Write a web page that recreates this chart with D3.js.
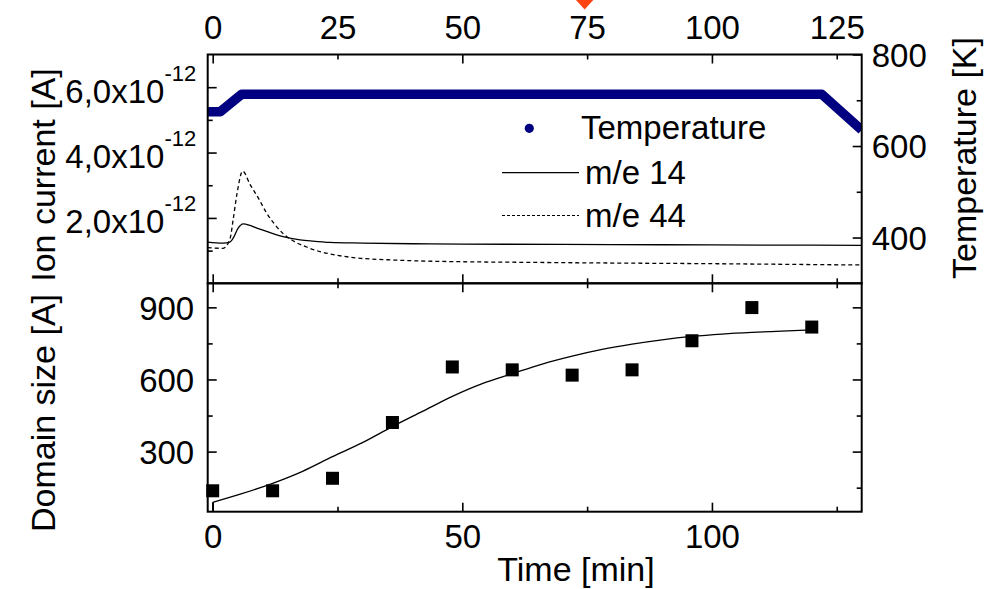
<!DOCTYPE html>
<html><head><meta charset="utf-8">
<script src="https://cdn.jsdelivr.net/npm/d3@7/dist/d3.min.js"></script>
<style>
html,body{margin:0;padding:0;background:#fff;}
svg{display:block;font-family:"Liberation Sans",Arial,sans-serif;}
</style></head>
<body>
<svg id="chart" width="985" height="589"></svg>
<script>
// ---------- data ----------
const tempTime = [-1, 1.5, 5.8, 122, 130];
const tempK    = [675, 675, 713, 713, 635];

const mz14Time    = [-1, 2, 3.5, 4.1, 5.1, 6.1, 7.5, 9, 10.8, 12.5, 14.1, 17.5, 20, 23.5, 30, 40, 50, 70, 90, 110, 130];
const mz14Current = [1.26, 1.23, 1.27, 1.38, 1.69, 1.82, 1.77, 1.68, 1.59, 1.50, 1.43, 1.33, 1.29, 1.25, 1.23, 1.21, 1.20, 1.19, 1.18, 1.17, 1.16];

const mz44Time    = [-1, 2.1, 3.5, 4.1, 4.9, 6.0, 7.5, 9.1, 10.8, 12.5, 14.1, 16.1, 18.8, 21.5, 23.5, 26, 29.2, 35, 40, 49.7, 60, 80, 100, 115, 130];
const mz44Current = [1.09, 1.07, 1.38, 1.95, 2.77, 3.43, 3.02, 2.62, 2.15, 1.79, 1.52, 1.30, 1.11, 0.97, 0.90, 0.83, 0.77, 0.72, 0.69, 0.66, 0.645, 0.62, 0.60, 0.58, 0.56];

const domainTime = [0, 12, 24, 36, 48, 60, 72, 84, 96, 108, 120];
const domainSize = [137, 137, 189, 421, 652, 640, 618, 640, 761, 899, 818];

const fitTime = [0, 0, 6, 12, 18, 24, 30, 36, 42, 48, 54, 60, 66, 72, 78, 84, 90, 96, 102, 108, 114, 120];
const fitSize = [50, 89, 126, 168, 218, 279, 337, 404, 467, 530, 583, 624, 664, 697, 725, 747, 765, 779, 789, 796, 801, 806];

const markerTimes = [74.5];

const timeMajorTicks = [0, 50, 100];
const timeMinorTicks = [25, 75, 125];
const topTimeTicks = [0, 25, 50, 75, 100, 125];
const ionMajorTicks = [2, 4, 6];
const ionMinorTicks = [1, 3, 5];
const ionTickLabels = ["2,0x10", "4,0x10", "6,0x10"];
const ionTickExp = "-12";
const tempMajorTicks = [400, 600, 800];
const tempMinorTicks = [500, 700];
const sizeMajorTicks = [300, 600, 900];
const sizeMinorTicks = [150, 450, 750];

const legendLabels = ["Temperature", "m/e 14", "m/e 44"];

// ---------- layout ----------
const L = 207.7, R = 861.7, T1 = 54.5, B1 = 283.3, B2 = 511.7;
const FS = 33, FT = 34;
const svg = d3.select("#chart");

const x = d3.scaleLinear().domain([-1, 130]).range([L, R]);
const yIon = d3.scaleLinear().domain([0, 7]).range([B1, T1]);
const yTemp = d3.scaleLinear().domain([300, 800]).range([B1, T1]);
const ySize = d3.scaleLinear().domain([50, 1000]).range([B2, B1]);

const defs = svg.append("defs");
defs.append("clipPath").attr("id", "clipTop").append("rect")
  .attr("x", L).attr("y", T1).attr("width", R - L).attr("height", B1 - T1);
defs.append("clipPath").attr("id", "clipBot").append("rect")
  .attr("x", L).attr("y", B1).attr("width", R - L).attr("height", B2 - B1);

function styleAxis(g) {
  g.select(".domain").remove();
  g.selectAll(".tick line").attr("stroke", "#000").attr("stroke-width", 1.6);
  g.selectAll(".tick text").attr("font-size", FS).attr("fill", "#000")
    .attr("font-family", '"Liberation Sans",Arial,sans-serif');
}
function addAxis(axis, tx, ty) {
  const g = svg.append("g").attr("transform", `translate(${tx},${ty})`).call(axis);
  styleAxis(g);
  return g;
}
const MAJ = 9, MIN = 5;

// ---------- top panel ----------
addAxis(d3.axisTop(x).tickValues(topTimeTicks).tickSize(0).tickPadding(16), 0, T1);
addAxis(d3.axisTop(x).tickValues(timeMajorTicks).tickSize(-MAJ).tickFormat(""), 0, T1);
addAxis(d3.axisTop(x).tickValues(timeMinorTicks).tickSize(-MIN).tickFormat(""), 0, T1);
addAxis(d3.axisBottom(x).tickValues(timeMajorTicks).tickSize(-MAJ).tickFormat(""), 0, B1);
addAxis(d3.axisBottom(x).tickValues(timeMinorTicks).tickSize(-MIN).tickFormat(""), 0, B1);
addAxis(d3.axisTop(x).tickValues(timeMajorTicks).tickSize(-MAJ).tickFormat(""), 0, B1);
addAxis(d3.axisTop(x).tickValues(timeMinorTicks).tickSize(-MIN).tickFormat(""), 0, B1);

// left ion axis
const ionAx = addAxis(d3.axisLeft(yIon).tickValues(ionMajorTicks).tickSize(-MAJ).tickPadding(11.5)
  .tickFormat((d, i) => ionTickLabels[i]), L, 0);
ionAx.selectAll(".tick text").attr("dy", "0.45em").each(function (d, i) {
  const t = d3.select(this);
  t.text(null);
  t.append("tspan").text(ionTickLabels[i]);
  t.append("tspan").attr("font-size", 22).attr("dy", "-1.0em").text(ionTickExp);
});
addAxis(d3.axisLeft(yIon).tickValues(ionMinorTicks).tickSize(-MIN).tickFormat(""), L, 0);

// right temp axis
const tAx = addAxis(d3.axisRight(yTemp).tickValues(tempMajorTicks).tickSize(-MAJ).tickPadding(10), R, 0);
tAx.selectAll(".tick text").attr("dy", "0.36em");
addAxis(d3.axisRight(yTemp).tickValues(tempMinorTicks).tickSize(-MIN).tickFormat(""), R, 0);

// ---------- bottom panel ----------
addAxis(d3.axisBottom(x).tickValues(timeMajorTicks).tickSize(-MAJ).tickPadding(13), 0, B2);
addAxis(d3.axisBottom(x).tickValues(timeMinorTicks).tickSize(-MIN).tickFormat(""), 0, B2);
const sAx = addAxis(d3.axisLeft(ySize).tickValues(sizeMajorTicks).tickSize(-MAJ).tickPadding(13.5), L, 0);
sAx.selectAll(".tick text").attr("dy", "0.36em");
addAxis(d3.axisLeft(ySize).tickValues(sizeMinorTicks).tickSize(-MIN).tickFormat(""), L, 0);
addAxis(d3.axisRight(ySize).tickValues(sizeMajorTicks).tickSize(-MAJ).tickFormat(""), R, 0);
addAxis(d3.axisRight(ySize).tickValues(sizeMinorTicks).tickSize(-MIN).tickFormat(""), R, 0);

// ---------- data marks: top ----------
const gTop = svg.append("g").attr("clip-path", "url(#clipTop)");
const tempData = tempTime.map((t, i) => [t, tempK[i]]);
gTop.append("path").datum(tempData)
  .attr("d", d3.line().x(d => x(d[0])).y(d => yTemp(d[1])))
  .attr("fill", "none").attr("stroke", "#000080").attr("stroke-width", 9.5)
  .attr("stroke-linejoin", "round");

const m14 = mz14Time.map((t, i) => [t, mz14Current[i]]);
const m44 = mz44Time.map((t, i) => [t, mz44Current[i]]);
const ionLine = d3.line().x(d => x(d[0])).y(d => yIon(d[1])).curve(d3.curveMonotoneX);
gTop.append("path").datum(m14).attr("d", ionLine)
  .attr("fill", "none").attr("stroke", "#000").attr("stroke-width", 1.3);
gTop.append("path").datum(m44).attr("d", ionLine)
  .attr("fill", "none").attr("stroke", "#000").attr("stroke-width", 1.3)
  .attr("stroke-dasharray", "4,3");

// legend
const lg = svg.append("g").attr("font-size", FS);
lg.append("circle").attr("cx", 529.3).attr("cy", 128.3).attr("r", 4.6).attr("fill", "#000080");
lg.append("text").attr("x", 581).attr("y", 139).text(legendLabels[0]);
lg.append("line").attr("x1", 502).attr("x2", 579).attr("y1", 172.7).attr("y2", 172.7)
  .attr("stroke", "#000").attr("stroke-width", 1.3);
lg.append("text").attr("x", 585).attr("y", 183.5).text(legendLabels[1]);
lg.append("line").attr("x1", 502).attr("x2", 579).attr("y1", 215.5).attr("y2", 215.5)
  .attr("stroke", "#000").attr("stroke-width", 1.1).attr("stroke-dasharray", "3,2");
lg.append("text").attr("x", 585).attr("y", 226.7).text(legendLabels[2]);

// ---------- data marks: bottom ----------
const gBot = svg.append("g").attr("clip-path", "url(#clipBot)");
const fitData = fitTime.map((t, i) => [t, fitSize[i]]);
gBot.append("path").datum(fitData.slice(0, 2))
  .attr("d", d3.line().x(d => x(d[0])).y(d => ySize(d[1])))
  .attr("fill", "none").attr("stroke", "#000").attr("stroke-width", 1.3);
gBot.append("path").datum(fitData.slice(1))
  .attr("d", d3.line().x(d => x(d[0])).y(d => ySize(d[1])).curve(d3.curveMonotoneX))
  .attr("fill", "none").attr("stroke", "#000").attr("stroke-width", 1.3);
const SQ = 13;
svg.append("g").selectAll("rect").data(domainTime.map((t, i) => [t, domainSize[i]])).join("rect")
  .attr("x", d => x(d[0]) - SQ / 2).attr("y", d => ySize(d[1]) - SQ / 2)
  .attr("width", SQ).attr("height", SQ).attr("fill", "#000");

// ---------- frames ----------
svg.append("rect").attr("x", L).attr("y", T1).attr("width", R - L).attr("height", B1 - T1)
  .attr("fill", "none").attr("stroke", "#000").attr("stroke-width", 2);
svg.append("rect").attr("x", L).attr("y", B1).attr("width", R - L).attr("height", B2 - B1)
  .attr("fill", "none").attr("stroke", "#000").attr("stroke-width", 2);

// marker
svg.append("g").selectAll("path").data(markerTimes).join("path")
  .attr("d", d => `M${x(d) - 10.5},-2 L${x(d) + 10.5},-2 L${x(d)},9.5 Z`)
  .attr("fill", "#ff4411");

// ---------- axis titles ----------
svg.append("text").attr("font-size", FT).attr("text-anchor", "middle")
  .attr("transform", "translate(55,175) rotate(-90)").text("Ion current [A]");
svg.append("text").attr("font-size", FT).attr("text-anchor", "middle")
  .attr("transform", "translate(55,413) rotate(-90)").text("Domain size [A]");
svg.append("text").attr("font-size", FT).attr("text-anchor", "middle")
  .attr("transform", "translate(976,158) rotate(-90)").text("Temperature [K]");
svg.append("text").attr("font-size", FT).attr("text-anchor", "middle")
  .attr("x", 576).attr("y", 581).text("Time [min]");
</script>
</body></html>
